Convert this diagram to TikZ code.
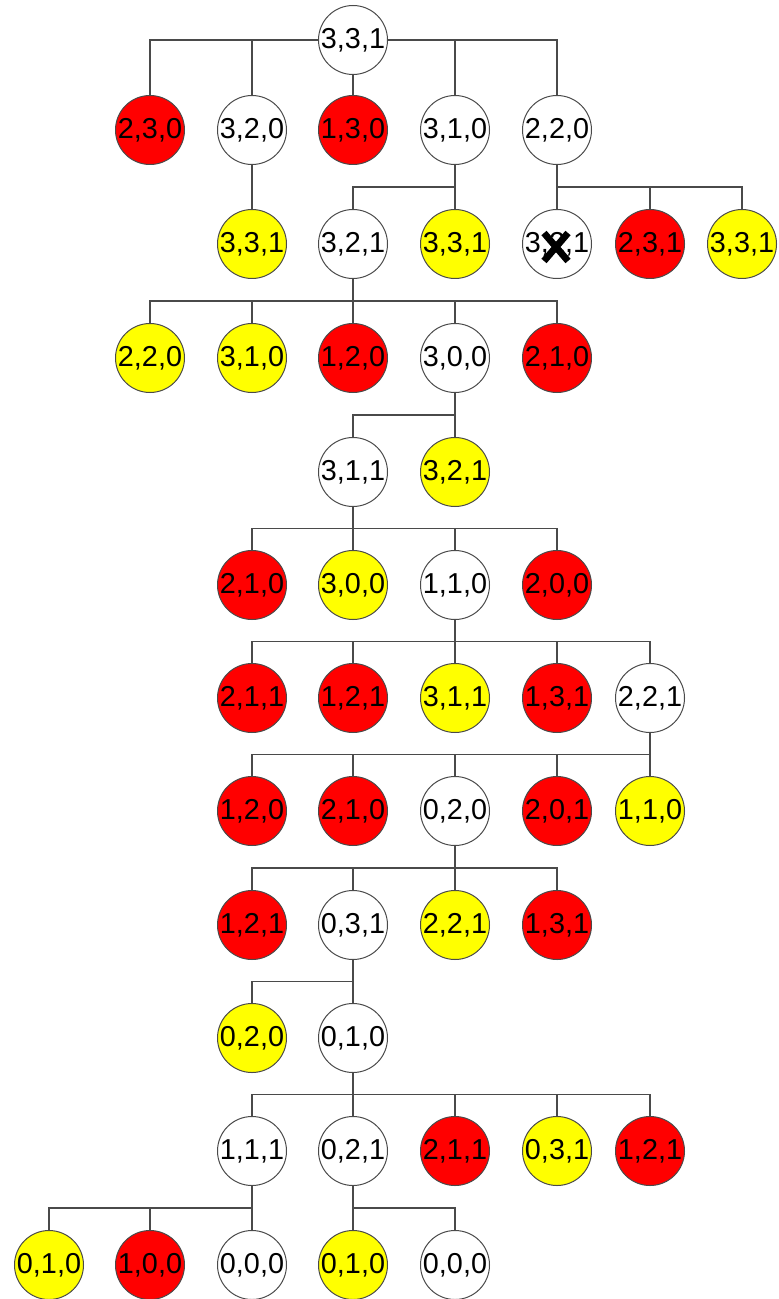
\documentclass[tikz,border=0pt]{standalone}
\usepackage{fontspec}
\setmainfont{Liberation Sans}
\usetikzlibrary{calc}
\definecolor{rd}{HTML}{FF0000}
\definecolor{yl}{HTML}{FFFF00}
\definecolor{ln}{HTML}{4A4A4A}
\tikzset{
  st/.style={circle,draw=ln,line width=0.5pt,minimum size=34.5pt,inner sep=0pt,
    font=\fontsize{14.4pt}{15pt}\selectfont,text=black},
  wh/.style={st,fill=white},
  rr/.style={st,fill=rd},
  yy/.style={st,fill=yl},
  conn/.style={draw=ln,line width=0.55pt},
  xmark/.style={line width=3.4pt,black}
}
\newcommand\kid[2]{\draw[conn] (#1.south) |- ($(#1)!.5!(#2)$) -| (#2.north);}
\begin{document}
\begin{tikzpicture}[x=0.5pt,y=-0.5pt]
\useasboundingbox (0,0) rectangle (778,1299);
% row 0
\node[wh] (r) at (353,40) {3,3,1};
% row 1
\node[rr] (a1) at (150,130) {2,3,0};
\node[wh] (a2) at (252,130) {3,2,0};
\node[rr] (a3) at (353,130) {1,3,0};
\node[wh] (a4) at (455,130) {3,1,0};
\node[wh] (a5) at (557,130) {2,2,0};
% row 2
\node[yy] (b1) at (252,244) {3,3,1};
\node[wh] (b2) at (353,244) {3,2,1};
\node[yy] (b3) at (455,244) {3,3,1};
\node[wh] (b4) at (557,244) {3,2,1};
\node[rr] (b5) at (650,244) {2,3,1};
\node[yy] (b6) at (742,244) {3,3,1};
% row 3
\node[yy] (c1) at (150,358) {2,2,0};
\node[yy] (c2) at (252,358) {3,1,0};
\node[rr] (c3) at (353,358) {1,2,0};
\node[wh] (c4) at (455,358) {3,0,0};
\node[rr] (c5) at (557,358) {2,1,0};
% row 4
\node[wh] (d1) at (353,472) {3,1,1};
\node[yy] (d2) at (455,472) {3,2,1};
% row 5
\node[rr] (e1) at (252,585) {2,1,0};
\node[yy] (e2) at (353,585) {3,0,0};
\node[wh] (e3) at (455,585) {1,1,0};
\node[rr] (e4) at (557,585) {2,0,0};
% row 6
\node[rr] (f1) at (252,698) {2,1,1};
\node[rr] (f2) at (353,698) {1,2,1};
\node[yy] (f3) at (455,698) {3,1,1};
\node[rr] (f4) at (557,698) {1,3,1};
\node[wh] (f5) at (650,698) {2,2,1};
% row 7
\node[rr] (g1) at (252,811) {1,2,0};
\node[rr] (g2) at (353,811) {2,1,0};
\node[wh] (g3) at (455,811) {0,2,0};
\node[rr] (g4) at (557,811) {2,0,1};
\node[yy] (g5) at (650,811) {1,1,0};
% row 8
\node[rr] (h1) at (252,925) {1,2,1};
\node[wh] (h2) at (353,925) {0,3,1};
\node[yy] (h3) at (455,925) {2,2,1};
\node[rr] (h4) at (557,925) {1,3,1};
% row 9
\node[yy] (i1) at (252,1038) {0,2,0};
\node[wh] (i2) at (353,1038) {0,1,0};
% row 10
\node[wh] (j1) at (252,1151) {1,1,1};
\node[wh] (j2) at (353,1151) {0,2,1};
\node[rr] (j3) at (455,1151) {2,1,1};
\node[yy] (j4) at (557,1151) {0,3,1};
\node[rr] (j5) at (650,1151) {1,2,1};
% row 11
\node[yy] (k1) at (49,1265) {0,1,0};
\node[rr] (k2) at (150,1265) {1,0,0};
\node[wh] (k3) at (252,1265) {0,0,0};
\node[yy] (k4) at (353,1265) {0,1,0};
\node[wh] (k5) at (455,1265) {0,0,0};
% connectors from root
\draw[conn] (r.west) -| (a1.north);
\draw[conn] (r.west) -| (a2.north);
\draw[conn] (r.south) -- (a3.north);
\draw[conn] (r.east) -| (a4.north);
\draw[conn] (r.east) -| (a5.north);
% other connectors
\kid{a2}{b1}
\kid{a4}{b2}\kid{a4}{b3}
\kid{a5}{b4}\kid{a5}{b5}\kid{a5}{b6}
\kid{b2}{c1}\kid{b2}{c2}\kid{b2}{c3}\kid{b2}{c4}\kid{b2}{c5}
\kid{c4}{d1}\kid{c4}{d2}
\kid{d1}{e1}\kid{d1}{e2}\kid{d1}{e3}\kid{d1}{e4}
\kid{e3}{f1}\kid{e3}{f2}\kid{e3}{f3}\kid{e3}{f4}\kid{e3}{f5}
\kid{f5}{g1}\kid{f5}{g2}\kid{f5}{g3}\kid{f5}{g4}\kid{f5}{g5}
\kid{g3}{h1}\kid{g3}{h2}\kid{g3}{h3}\kid{g3}{h4}
\kid{h2}{i1}\kid{h2}{i2}
\kid{i2}{j1}\kid{i2}{j2}\kid{i2}{j3}\kid{i2}{j4}\kid{i2}{j5}
\kid{j1}{k1}\kid{j1}{k2}\kid{j1}{k3}
\kid{j2}{k4}\kid{j2}{k5}
% cross on b4
\draw[xmark] ($(b4)+(-13,-11)$) -- ($(b4)+(11,17)$);
\draw[xmark] ($(b4)+(-13,17)$) -- ($(b4)+(11,-11)$);
\end{tikzpicture}
\end{document}
